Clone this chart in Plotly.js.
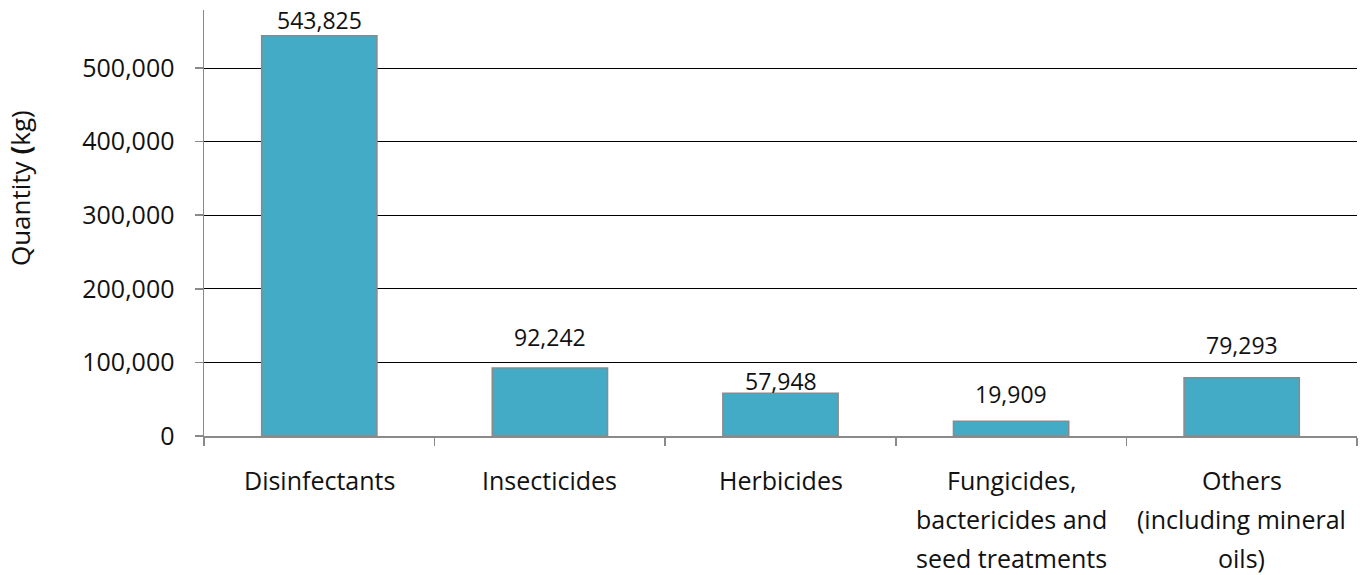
<!DOCTYPE html>
<html>
<head>
<meta charset="utf-8">
<script src="https://cdn.plot.ly/plotly-3.0.1.min.js"></script>
<style>html,body{margin:0;padding:0;background:#fff;}</style>
</head>
<body>
<div id="chart" style="width:1362px;height:575px;"></div>
<script>
// Data
const categories = ["Disinfectants", "Insecticides", "Herbicides", "Fungicides, bactericides and seed treatments", "Others (including mineral oils)"];
const labelLines = [
  ["Disinfectants"],
  ["Insecticides"],
  ["Herbicides"],
  ["Fungicides,", "bactericides and", "seed treatments"],
  ["Others", "(including mineral", "oils)"]
];
const quantities = [543825, 92242, 57948, 19909, 79293];
const valueLabels = ["543,825", "92,242", "57,948", "19,909", "79,293"];
const yTickVals = [0, 100000, 200000, 300000, 400000, 500000];
const yTickText = ["0", "100,000", "200,000", "300,000", "400,000", "500,000"];
const yTitle = "Quantity <b>(</b>kg)";

// layout-only label offsets (pixels above bar tops)
const labelShift = [16, 31, 12, 27, 33];

const FONT = "Open Sans, Noto Sans, sans-serif";
const annotations = [];
categories.forEach((c, i) => {
  annotations.push({
    x: c, y: quantities[i], xref: "x", yref: "y",
    text: valueLabels[i], showarrow: false,
    yanchor: "middle", yshift: labelShift[i],
    font: {family: FONT, size: 23, color: "#111"}
  });
  labelLines[i].forEach((ln, j) => {
    annotations.push({
      x: c, y: 0, xref: "x", yref: "y",
      text: ln, showarrow: false,
      yanchor: "middle", yshift: -(44 + 39 * j),
      font: {family: FONT, size: 25, color: "#111"}
    });
  });
});
annotations.push({
  x: -0.1596, y: 0.582, xref: "paper", yref: "paper",
  text: yTitle, textangle: -90, showarrow: false,
  xanchor: "center", yanchor: "middle",
  font: {family: FONT, size: 26, color: "#111"}
});

const trace = {
  type: "bar",
  x: categories,
  y: quantities,
  marker: {color: "#43ABC6", line: {color: "#8a8a8a", width: 1.5}},
  hoverinfo: "x+y"
};

const layout = {
  width: 1362, height: 575,
  margin: {l: 204, r: 5, t: 10, b: 139, pad: 0},
  paper_bgcolor: "#fff", plot_bgcolor: "#fff",
  showlegend: false,
  bargap: 0.5,
  font: {family: FONT, color: "#111"},
  xaxis: {
    type: "category",
    showticklabels: false,
    ticks: "outside", tickson: "boundaries", ticklen: 8, tickcolor: "#8a8a8a", tickwidth: 1.5,
    showline: true, linecolor: "#8a8a8a", linewidth: 1.5,
    showgrid: false, zeroline: false, fixedrange: true
  },
  yaxis: {
    range: [0, 578800],
    tickvals: yTickVals, ticktext: yTickText,
    ticks: "outside", ticklen: 8, tickcolor: "#8a8a8a", tickwidth: 1.5,
    ticklabelstandoff: 15,
    tickfont: {family: FONT, size: 25, color: "#111"},
    showline: true, linecolor: "#8a8a8a", linewidth: 1.5,
    showgrid: true, gridcolor: "#000", gridwidth: 1,
    zeroline: false, automargin: false, fixedrange: true
  },
  annotations: annotations
};

Plotly.newPlot("chart", [trace], layout, {displayModeBar: false, staticPlot: true});
</script>
</body>
</html>
